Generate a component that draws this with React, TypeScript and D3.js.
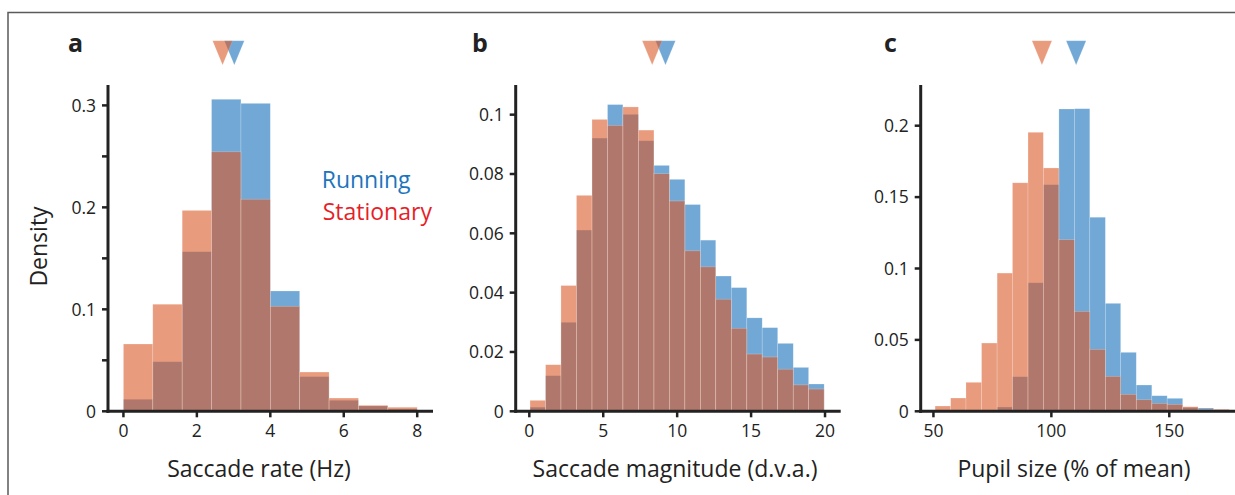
import React from "react";
import * as d3 from "d3";

// ---------- data ----------
const rateBinEdges = [0, 0.8, 1.6, 2.4, 3.2, 4.0, 4.8, 5.6, 6.4, 7.2, 8.0];
const rateRunning = [0.0118, 0.0486, 0.1565, 0.306, 0.302, 0.118, 0.034, 0.0108, 0.0052, 0.0023];
const rateStationary = [0.066, 0.105, 0.197, 0.2545, 0.208, 0.103, 0.0385, 0.013, 0.0059, 0.004];
const rateMeans = { stationary: 2.7, running: 3.02 };
const rateXTicks = [0, 2, 4, 6, 8];
const rateYTicks = [0, 0.1, 0.2, 0.3];
const rateYTickLabels = ["0", "0.1", "0.2", "0.3"];
const rateYMinorTicks = [0.05, 0.15, 0.25];

const magBinEdges = [0.05, 1.1, 2.14, 3.19, 4.24, 5.29, 6.33, 7.38, 8.43, 9.47, 10.52, 11.57, 12.61, 13.66, 14.71, 15.75, 16.8, 17.85, 18.89, 19.94];
const magRunning = [0.0014, 0.012, 0.03, 0.0611, 0.0921, 0.1034, 0.1001, 0.0912, 0.0829, 0.0782, 0.0697, 0.0577, 0.0456, 0.0417, 0.0315, 0.0282, 0.0229, 0.0148, 0.0092];
const magStationary = [0.0037, 0.0157, 0.0424, 0.0728, 0.0984, 0.0964, 0.1026, 0.0948, 0.0801, 0.0709, 0.0541, 0.0487, 0.0378, 0.028, 0.0193, 0.0183, 0.0142, 0.0089, 0.0075];
const magMeans = { stationary: 8.31, running: 9.21 };
const magXTicks = [0, 5, 10, 15, 20];
const magYTicks = [0, 0.02, 0.04, 0.06, 0.08, 0.1];
const magYTickLabels = ["0", "0.02", "0.04", "0.06", "0.08", "0.1"];

const pupilBinEdges = [50.7, 57.3, 63.8, 70.4, 77.0, 83.5, 90.1, 96.6, 103.2, 109.8, 116.3, 122.9, 129.4, 136.0, 142.6, 149.1, 155.7, 162.2, 168.8, 175.4];
const pupilRunning = [0, 0, 0, 0, 0.003, 0.0242, 0.09, 0.1587, 0.2117, 0.2119, 0.1359, 0.0756, 0.0413, 0.0184, 0.0109, 0.0091, 0.0026, 0.0023, 0.0008];
const pupilStationary = [0.0037, 0.0093, 0.0203, 0.0478, 0.0968, 0.16, 0.1954, 0.1704, 0.1202, 0.07, 0.0434, 0.0245, 0.0119, 0.0081, 0.0056, 0.0049, 0.0032, 0.0014, 0.0014];
const pupilMeans = { stationary: 96.0, running: 110.5 };
const pupilXTicks = [50, 100, 150];
const pupilYTicks = [0, 0.05, 0.1, 0.15, 0.2];
const pupilYTickLabels = ["0", "0.05", "0.1", "0.15", "0.2"];

// ---------- style ----------
const BLUE = "rgb(18,110,186)";
const ORANGE = "rgb(218,88,38)";
const ALPHA = 0.6;
const INK = "#222";
const FONT = "'Source Sans Pro', 'Open Sans', 'Noto Sans', sans-serif";
const TICK_FS = 17.5;
const LABEL_FS = 23;

const Y_TOP = 85;
const Y_BASE = 411.3;
const AXIS_W = 325;

type PanelProps = {
  letter: string;
  spineX: number;
  xDomain: [number, number];
  yMax: number;
  edges: number[];
  running: number[];
  stationary: number[];
  means: { stationary: number; running: number };
  xTicks: number[];
  yTicks: number[];
  yTickLabels: string[];
  yMinor?: number[];
  xLabel: string;
  xLabelCenter: number;
  letterX: number;
};

function Tri({ x, color }: { x: number; color: string }) {
  const p = d3.path();
  p.moveTo(x - 10, 40.7);
  p.lineTo(x + 10, 40.7);
  p.lineTo(x, 65);
  p.closePath();
  return <path d={p.toString()} fill={color} fillOpacity={ALPHA} stroke="#fff" strokeOpacity={0.3} strokeWidth={0.5} />;
}

function Panel(props: PanelProps) {
  const x = d3.scaleLinear().domain(props.xDomain).range([props.spineX, props.spineX + AXIS_W]);
  const y = d3.scaleLinear().domain([0, props.yMax]).range([Y_BASE, Y_TOP]);
  const bars = (vals: number[], color: string, key: string) =>
    vals.map((v, i) =>
      v > 0 ? (
        <rect
          key={key + i}
          x={x(props.edges[i])}
          width={x(props.edges[i + 1]) - x(props.edges[i])}
          y={y(v)}
          height={Y_BASE - y(v)}
          fill={color}
          fillOpacity={ALPHA}
          stroke="#fff"
          strokeOpacity={0.35}
          strokeWidth={0.6}
        />
      ) : null
    );
  return (
    <g>
      <text x={props.letterX} y={52} fontSize={25} fontWeight="bold" fill={INK} fontFamily={FONT}>
        {props.letter}
      </text>
      <Tri x={x(props.means.running)} color={BLUE} />
      <Tri x={x(props.means.stationary)} color={ORANGE} />
      {bars(props.running, BLUE, "r")}
      {bars(props.stationary, ORANGE, "s")}
      <line x1={props.spineX} x2={props.spineX} y1={Y_TOP} y2={Y_BASE + 1.5} stroke={INK} strokeWidth={3} />
      <line x1={props.spineX - 1.5} x2={props.spineX + AXIS_W} y1={Y_BASE} y2={Y_BASE} stroke={INK} strokeWidth={3} />
      {props.yTicks.map((t, i) => (
        <g key={"yt" + i}>
          <line x1={props.spineX - 6} x2={props.spineX} y1={y(t)} y2={y(t)} stroke={INK} strokeWidth={2.5} />
          <text x={props.spineX - 12} y={y(t)} dy="0.36em" textAnchor="end" fontSize={TICK_FS} fill={INK} fontFamily={FONT}>
            {props.yTickLabels[i]}
          </text>
        </g>
      ))}
      {(props.yMinor || []).map((t, i) => (
        <line key={"ym" + i} x1={props.spineX - 6} x2={props.spineX} y1={y(t)} y2={y(t)} stroke={INK} strokeWidth={2.5} />
      ))}
      {props.xTicks.map((t, i) => (
        <g key={"xt" + i}>
          <line x1={x(t)} x2={x(t)} y1={Y_BASE} y2={Y_BASE + 6} stroke={INK} strokeWidth={2.5} />
          <text x={x(t)} y={437} textAnchor="middle" fontSize={TICK_FS} fill={INK} fontFamily={FONT}>
            {String(t)}
          </text>
        </g>
      ))}
      <text x={props.xLabelCenter} y={477} textAnchor="middle" fontSize={LABEL_FS} fill={INK} fontFamily={FONT}>
        {props.xLabel}
      </text>
    </g>
  );
}

export default function App() {
  return (
    <svg width={1235} height={495} style={{ position: "fixed", left: 0, top: 0, background: "#fff" }}>
      <rect x={0} y={0} width={1235} height={495} fill="#fff" />
      <path d="M8,500 L8,12.5 L1240,12.5" fill="none" stroke="#5a5a5a" strokeWidth={1.5} />
      <Panel
        letter="a"
        letterX={68}
        spineX={108}
        xDomain={[-0.42, 8.43]}
        yMax={0.32}
        edges={rateBinEdges}
        running={rateRunning}
        stationary={rateStationary}
        means={rateMeans}
        xTicks={rateXTicks}
        yTicks={rateYTicks}
        yTickLabels={rateYTickLabels}
        yMinor={rateYMinorTicks}
        xLabel="Saccade rate (Hz)"
        xLabelCenter={259}
      />
      <Panel
        letter="b"
        letterX={472}
        spineX={515.7}
        xDomain={[-0.92, 21.06]}
        yMax={0.11}
        edges={magBinEdges}
        running={magRunning}
        stationary={magStationary}
        means={magMeans}
        xTicks={magXTicks}
        yTicks={magYTicks}
        yTickLabels={magYTickLabels}
        xLabel="Saccade magnitude (d.v.a.)"
        xLabelCenter={675}
      />
      <Panel
        letter="c"
        letterX={884}
        spineX={920.7}
        xDomain={[44.6, 182.4]}
        yMax={0.2285}
        edges={pupilBinEdges}
        running={pupilRunning}
        stationary={pupilStationary}
        means={pupilMeans}
        xTicks={pupilXTicks}
        yTicks={pupilYTicks}
        yTickLabels={pupilYTickLabels}
        xLabel="Pupil size (% of mean)"
        xLabelCenter={1074}
      />
      <text transform="translate(46.7,246.5) rotate(-90)" textAnchor="middle" fontSize={LABEL_FS} fill={INK} fontFamily={FONT}>
        Density
      </text>
      <text x={321.7} y={188.3} fontSize={LABEL_FS} fill="rgb(28,117,188)" fontFamily={FONT}>
        Running
      </text>
      <text x={322.7} y={220} fontSize={LABEL_FS} fill="rgb(230,30,40)" fontFamily={FONT}>
        Stationary
      </text>
    </svg>
  );
}
